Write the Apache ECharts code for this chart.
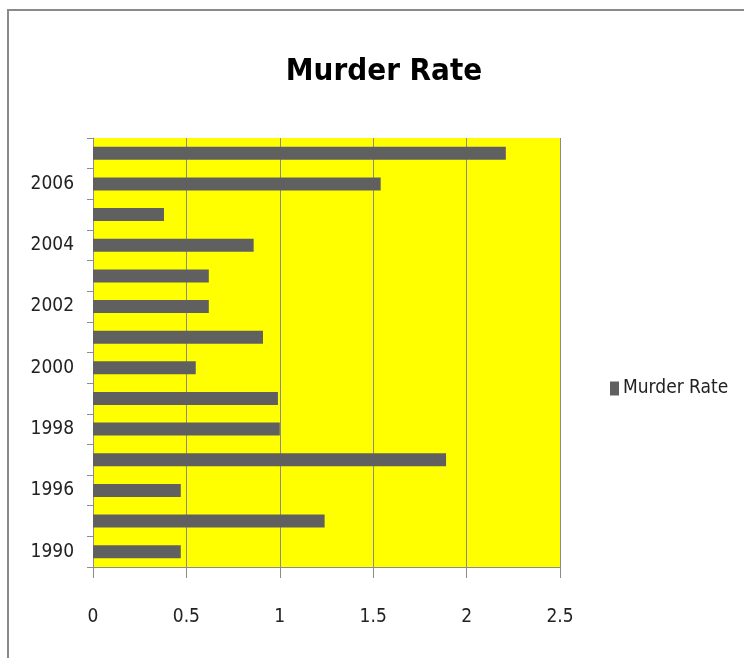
<!DOCTYPE html>
<html>
<head>
<meta charset="utf-8">
<style>
  html, body { margin: 0; padding: 0; background: #fff; }
  #chart { width: 744px; height: 658px; }
</style>
<script src="https://cdn.jsdelivr.net/npm/echarts@6/dist/echarts.min.js"></script>
</head>
<body>
<div id="chart"></div>
<script>
// years, bottom to top (only every other one is labelled on the axis)
const years = ['1990', '1995', '1996', '1997', '1998', '1999', '2000', '2001', '2002', '2003', '2004', '2005', '2006', '2007']
const murderRate = [0.47, 1.24, 0.47, 1.89, 1.0, 0.99, 0.55, 0.91, 0.62, 0.62, 0.86, 0.38, 1.54, 2.21]
const rateTicks = [0, 0.5, 1, 1.5, 2, 2.5]

const font = "'Liberation Sans Narrow', 'DejaVu Sans Condensed', sans-serif"

const chart = echarts.init(document.getElementById('chart'))

const option = {
	animation: false,
	backgroundColor: '#ffffff',
	graphic: [{
		type: 'rect',
		shape: { x: 8, y: 10, width: 800, height: 700 },
		style: { fill: 'none', stroke: '#8a8a8a', lineWidth: 2 },
		silent: true
	}],
	title: {
		text: 'Murder Rate',
		left: 379,
		top: 51,
		textAlign: 'center',
		textStyle: {
			fontFamily: font,
			fontWeight: 'bold',
			fontSize: 31,
			color: '#000'
		}
	},
	legend: {
		left: 605,
		top: 374,
		itemWidth: 9,
		itemHeight: 14,
		icon: 'rect',
		itemGap: 6,
		textStyle: { fontFamily: font, fontSize: 19, color: '#222', padding: [0, 0, 0, -1] },
		data: ['Murder Rate']
	},
	grid: {
		left: 93,
		right: 184,
		top: 138,
		bottom: 91,
		show: true,
		backgroundColor: '#ffff00',
		borderWidth: 0
	},
	xAxis: {
		type: 'value',
		min: rateTicks[0],
		max: rateTicks[rateTicks.length - 1],
		interval: 0.5,
		axisLine: { show: true, lineStyle: { color: '#8c8c8c', width: 1 } },
		axisTick: { show: true, length: 11, lineStyle: { color: '#8c8c8c' } },
		splitLine: { show: true, lineStyle: { color: '#8c8c8c', width: 1 } },
		axisLabel: {
			margin: 41,
			fontFamily: font,
			fontSize: 19,
			color: '#222',
			formatter: v => String(v)
		}
	},
	yAxis: {
		type: 'category',
		data: years,
		axisLine: { show: true, lineStyle: { color: '#8c8c8c', width: 1 } },
		axisTick: { show: true, interval: 0, length: 6, lineStyle: { color: '#8c8c8c' } },
		axisLabel: {
			interval: 1,
			margin: 19,
			fontFamily: font,
			fontSize: 19,
			color: '#222'
		}
	},
	series: [{
		name: 'Murder Rate',
		type: 'bar',
		data: murderRate,
		barWidth: 13,
		itemStyle: { color: '#606060' }
	}]
}

chart.setOption(option)
</script>
</body>
</html>
